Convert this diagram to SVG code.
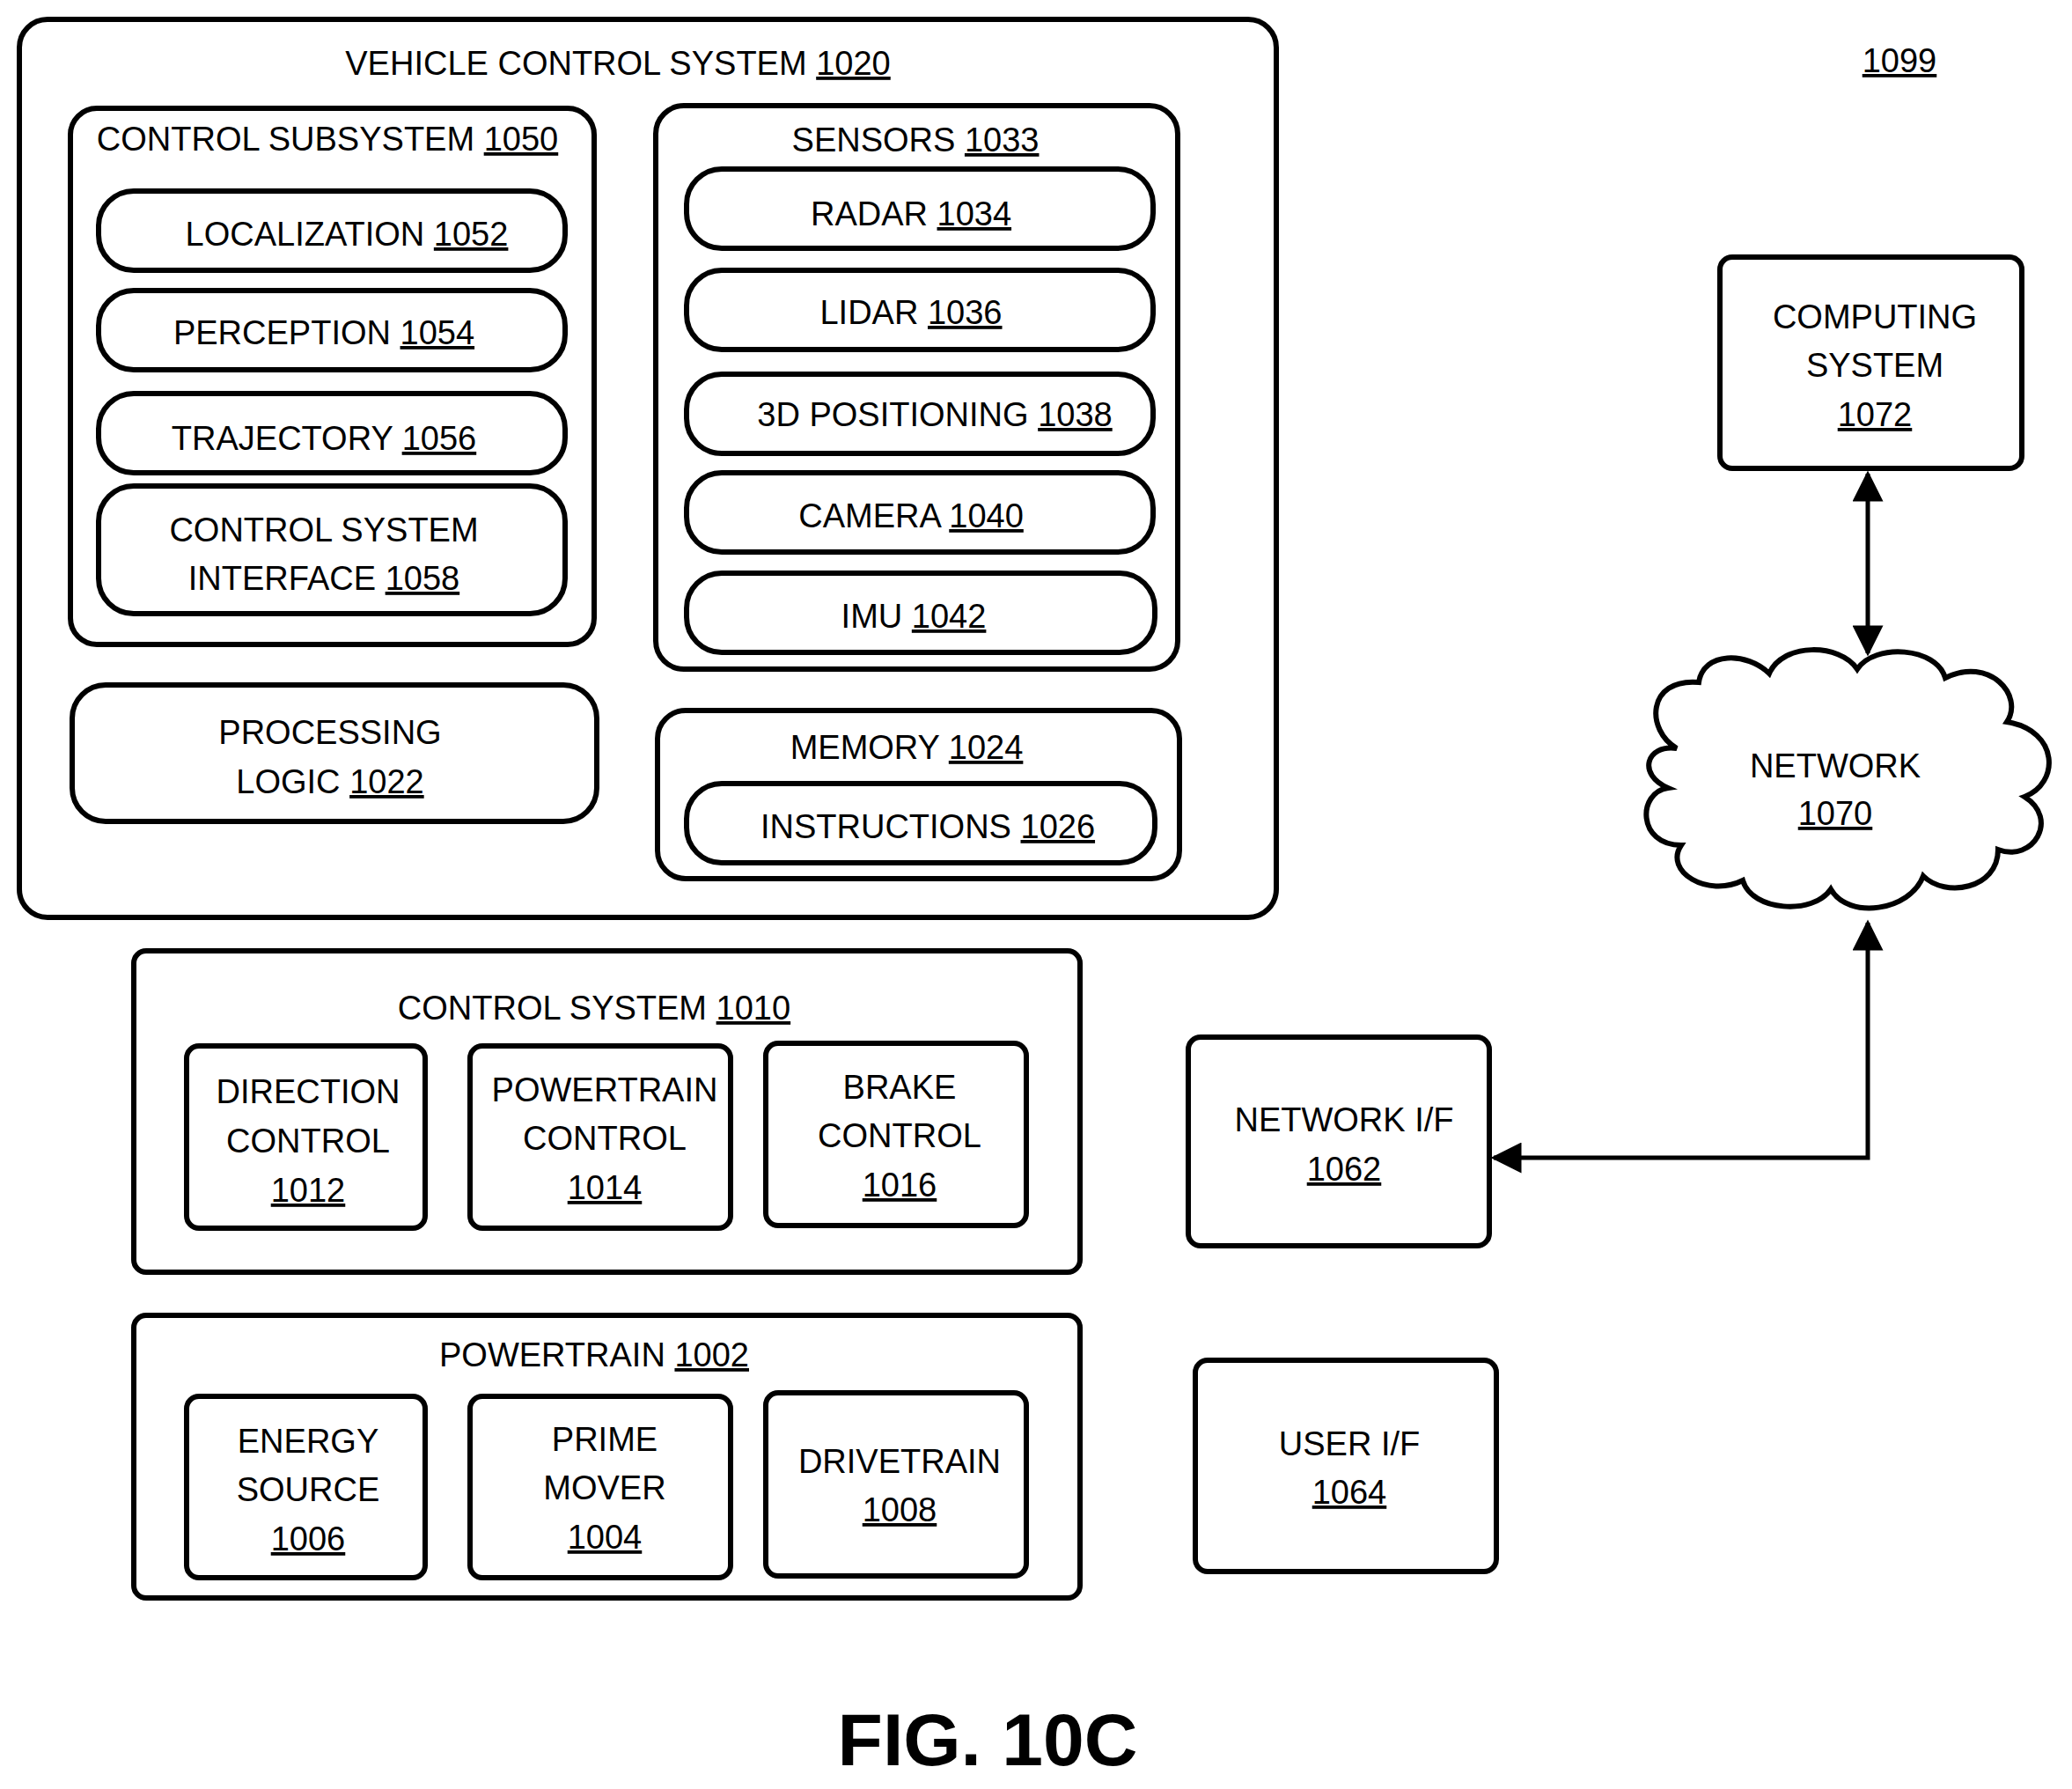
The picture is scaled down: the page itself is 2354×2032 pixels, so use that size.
<svg xmlns="http://www.w3.org/2000/svg" width="2354" height="2032" viewBox="0 0 2354 2032">
<defs>
<style>
rect{fill:#fff;stroke:#000;stroke-width:6}
text{font-family:"Liberation Sans",Arial,sans-serif;font-size:38px;text-anchor:middle;fill:#000}
.u{text-decoration:underline}
.c{fill:none;stroke:#000;stroke-width:5}
</style>
<marker id="ah" viewBox="0 0 10 10" refX="9" refY="5" markerWidth="8" markerHeight="7" orient="auto-start-reverse" markerUnits="strokeWidth"><path d="M0,0L10,5L0,10z" fill="#000"/></marker>
</defs>
<rect width="2354" height="2032" style="stroke:none"/>
<g id="vcs"><rect x="22" y="22" width="1428" height="1020" rx="32"/><text x="702" y="85">VEHICLE CONTROL SYSTEM <tspan class="u">1020</tspan></text></g>
<text x="2158" y="82" class="u">1099</text>
<g id="subsys"><rect x="80" y="123" width="595" height="609" rx="30"/><text x="372" y="171">CONTROL SUBSYSTEM <tspan class="u">1050</tspan></text></g>
<g id="loc"><rect x="112" y="217" width="530" height="90" rx="40"/><text x="394" y="279">LOCALIZATION <tspan class="u">1052</tspan></text></g>
<g id="per"><rect x="112" y="330" width="530" height="90" rx="40"/><text x="368" y="391">PERCEPTION <tspan class="u">1054</tspan></text></g>
<g id="traj"><rect x="112" y="447" width="530" height="90" rx="40"/><text x="368" y="511">TRAJECTORY <tspan class="u">1056</tspan></text></g>
<g id="csi"><rect x="112" y="552" width="530" height="145" rx="40"/><text x="368" y="615">CONTROL SYSTEM</text><text x="368" y="670">INTERFACE <tspan class="u">1058</tspan></text></g>
<g id="proc"><rect x="82" y="778" width="596" height="155" rx="38"/><text x="375" y="845">PROCESSING</text><text x="375" y="901">LOGIC <tspan class="u">1022</tspan></text></g>
<g id="sensors"><rect x="745" y="120" width="593" height="640" rx="32"/><text x="1040" y="172">SENSORS <tspan class="u">1033</tspan></text></g>
<g id="radar"><rect x="780" y="192" width="530" height="90" rx="40"/><text x="1035" y="256">RADAR <tspan class="u">1034</tspan></text></g>
<g id="lidar"><rect x="780" y="307" width="530" height="90" rx="40"/><text x="1035" y="368">LIDAR <tspan class="u">1036</tspan></text></g>
<g id="pos"><rect x="780" y="425" width="530" height="90" rx="40"/><text x="1062" y="484">3D POSITIONING <tspan class="u">1038</tspan></text></g>
<g id="cam"><rect x="780" y="537" width="530" height="90" rx="40"/><text x="1035" y="599">CAMERA <tspan class="u">1040</tspan></text></g>
<g id="imu"><rect x="780" y="651" width="532" height="90" rx="40"/><text x="1038" y="713">IMU <tspan class="u">1042</tspan></text></g>
<g id="mem"><rect x="747" y="807" width="593" height="191" rx="32"/><text x="1030" y="862">MEMORY <tspan class="u">1024</tspan></text></g>
<g id="instr"><rect x="780" y="890" width="532" height="90" rx="40"/><text x="1054" y="952">INSTRUCTIONS <tspan class="u">1026</tspan></text></g>
<g id="cs"><rect x="152" y="1080" width="1075" height="365" rx="14"/><text x="675" y="1158">CONTROL SYSTEM <tspan class="u">1010</tspan></text></g>
<g id="dir"><rect x="212" y="1188" width="271" height="207" rx="14"/><text x="350" y="1253">DIRECTION</text><text x="350" y="1309">CONTROL</text><text x="350" y="1365" class="u">1012</text></g>
<g id="ptc"><rect x="534" y="1188" width="296" height="207" rx="14"/><text x="687" y="1251">POWERTRAIN</text><text x="687" y="1306">CONTROL</text><text x="687" y="1362" class="u">1014</text></g>
<g id="brake"><rect x="870" y="1185" width="296" height="207" rx="14"/><text x="1022" y="1248">BRAKE</text><text x="1022" y="1303">CONTROL</text><text x="1022" y="1359" class="u">1016</text></g>
<g id="pt"><rect x="152" y="1494" width="1075" height="321" rx="14"/><text x="675" y="1552">POWERTRAIN <tspan class="u">1002</tspan></text></g>
<g id="energy"><rect x="212" y="1586" width="271" height="206" rx="14"/><text x="350" y="1650">ENERGY</text><text x="350" y="1705">SOURCE</text><text x="350" y="1761" class="u">1006</text></g>
<g id="prime"><rect x="534" y="1586" width="296" height="206" rx="14"/><text x="687" y="1648">PRIME</text><text x="687" y="1703">MOVER</text><text x="687" y="1759" class="u">1004</text></g>
<g id="drive"><rect x="870" y="1582" width="296" height="208" rx="14"/><text x="1022" y="1673">DRIVETRAIN</text><text x="1022" y="1728" class="u">1008</text></g>
<g id="nif"><rect x="1350" y="1178" width="342" height="237" rx="14"/><text x="1527" y="1285">NETWORK I/F</text><text x="1527" y="1341" class="u">1062</text></g>
<g id="uif"><rect x="1358" y="1545" width="342" height="240" rx="14"/><text x="1533" y="1653">USER I/F</text><text x="1533" y="1708" class="u">1064</text></g>
<g id="comp"><rect x="1954" y="292" width="343" height="240" rx="14"/><text x="2130" y="373">COMPUTING</text><text x="2130" y="428">SYSTEM</text><text x="2130" y="484" class="u">1072</text></g>
<g id="net"><path d="M1905,850 C1870,830 1870,770 1930,775 C1935,740 1985,740 2010,765 C2025,730 2090,730 2110,760 C2130,730 2200,735 2210,770 C2260,745 2300,790 2280,820 C2340,830 2340,890 2300,905 C2340,930 2310,980 2270,965 C2270,1010 2210,1020 2185,995 C2170,1035 2100,1045 2080,1010 C2060,1040 1990,1035 1980,1000 C1940,1020 1890,990 1910,960 C1860,960 1860,900 1895,895 C1860,880 1870,845 1905,850 Z" fill="#fff" stroke="#000" stroke-width="6"/><text x="2085" y="883">NETWORK</text><text x="2085" y="937" class="u">1070</text></g>
<g id="connectors">
<path class="c" d="M2122,538 L2122,742" marker-start="url(#ah)" marker-end="url(#ah)"/>
<path class="c" d="M2122,1048 L2122,1315 L1697,1315" marker-start="url(#ah)" marker-end="url(#ah)"/>
</g>
<text x="1122" y="2005" style="font-size:84px;font-weight:bold">FIG. 10C</text>
</svg>
